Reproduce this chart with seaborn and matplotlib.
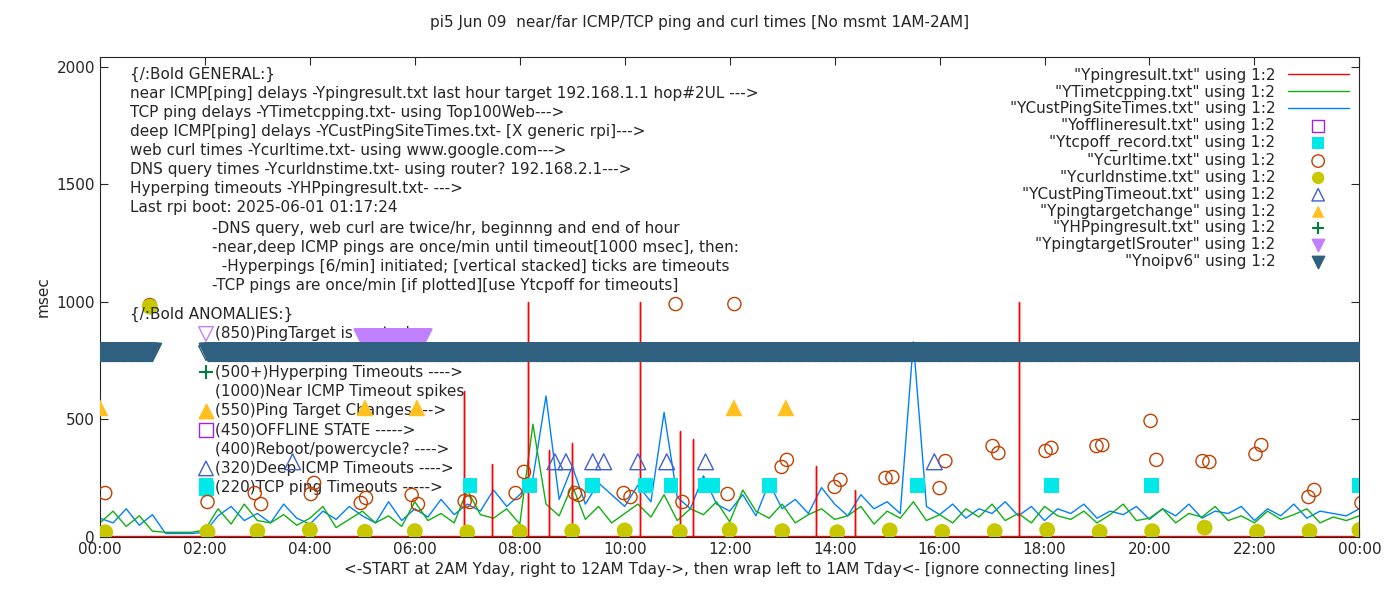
import matplotlib
matplotlib.use('Agg')
import matplotlib.pyplot as plt
import numpy as np
import seaborn as sns

sns.set_style("ticks")
plt.rcParams['font.family'] = ['DejaVu Sans']
plt.rcParams['font.size'] = 11

# 15-minute sample grid (hours)
grid_hours = np.arange(0, 24.01, 0.25)
tcpping_ms = [60, 110, 45, 90, 25, 20, 20, 20, 30, 120, 55, 140, 70, 60, 95, 50,
              80, 130, 40, 75, 110, 60, 90, 45, 150, 70, 100, 60, 200, 95, 80, 120,
              55, 480, 140, 90, 220, 75, 130, 60, 100, 140, 85, 180, 70, 120, 95, 150,
              65, 200, 110, 80, 140, 60, 95, 120, 75, 90, 130, 55, 110, 80, 150, 70,
              95, 60, 120, 85, 140, 70, 100, 60, 130, 90, 75, 110, 60, 95, 140, 70,
              80, 120, 60, 100, 85, 130, 70, 90, 60, 110, 75, 95, 120, 60, 85, 70, 90]
custping_ms = [80, 60, 120, 50, 95, 15, 15, 15, 20, 90, 130, 70, 100, 60, 140, 80,
               55, 110, 75, 130, 90, 60, 150, 70, 120, 85, 160, 95, 140, 110, 200, 130,
               180, 250, 600, 160, 300, 140, 230, 180, 130, 220, 150, 530, 170, 120, 260, 140,
               110, 180, 90, 230, 120, 160, 100, 210, 140, 90, 180, 120, 150, 100, 830, 130,
               95, 140, 80, 120, 100, 150, 90, 130, 70, 120, 100, 140, 80, 110, 95, 130,
               75, 120, 90, 140, 80, 110, 100, 130, 70, 120, 90, 140, 80, 110, 100, 90, 120]
near_base_ms = 5
near_spike_hours = [6.93, 7.47, 8.15, 8.55, 9.0, 10.29, 11.05, 11.3, 13.64, 14.38, 17.52]
near_spike_ms = [620, 310, 1000, 370, 400, 1000, 450, 415, 300, 200, 1000]

curl_hours = [0.1, 0.95, 2.05, 2.95, 3.07, 4.02, 4.08, 4.97, 5.07, 5.94, 6.06, 6.95,
              7.05, 7.92, 8.08, 9.05, 9.12, 9.98, 10.11, 10.97, 11.1, 12.09, 11.96,
              12.99, 13.09, 14.0, 14.11, 14.97, 15.1, 16.0, 16.11, 17.01, 17.12, 18.02,
              18.13, 18.99, 19.1, 20.02, 20.13, 21.01, 21.14, 22.02, 22.13, 23.03, 23.14, 24.04]
curl_ms = [187, 987, 149, 187, 140, 183, 230, 145, 166, 179, 140, 153, 149, 187, 277,
           187, 179, 187, 170, 991, 149, 991, 183, 298, 328, 213, 243, 251, 255, 208,
           323, 387, 357, 366, 379, 387, 391, 494, 328, 323, 319, 353, 391, 170, 200, 145]
dns_hours = [0.1, 0.95, 2.05, 3.0, 4.0, 5.05, 6.0, 7.0, 8.0, 9.0, 10.0, 11.05, 12.0,
             13.0, 14.05, 15.05, 16.05, 17.05, 18.05, 19.05, 20.05, 21.05, 22.05, 23.05, 24.0]
dns_ms = [20, 980, 22, 25, 30, 22, 25, 20, 22, 25, 28, 22, 30, 25, 20, 28, 22, 25,
          30, 22, 25, 40, 22, 25, 30]
tcpoff_hours = [2.02, 7.05, 8.19, 9.39, 10.4, 10.88, 11.54, 11.68, 12.76, 15.58, 18.13, 20.04, 24.0]
tcpoff_ms = [220] * 13
deep_timeout_hours = [3.67, 8.67, 8.88, 9.39, 9.6, 10.25, 10.8, 11.54, 15.9]
deep_timeout_ms = [320] * 9
target_change_hours = [0.0, 5.05, 6.04, 12.08, 13.07]
target_change_ms = [550] * 5
router_hours = np.arange(5.0, 6.16, 1 / 60)
router_ms = 850
noipv6_hours = np.concatenate([np.arange(0, 1.0, 1 / 60), np.arange(2.05, 24.2, 1 / 60)])
noipv6_ms = 785

fig = plt.figure(figsize=(14, 6), dpi=100)
ax = fig.add_axes([0.0714, 0.105, 0.8996, 0.80])

near_x = np.concatenate([grid_hours, near_spike_hours, near_spike_hours, near_spike_hours])
near_y = np.concatenate([[near_base_ms] * len(grid_hours), [near_base_ms] * 11, near_spike_ms,
                         [near_base_ms] * 11])
order = np.argsort(near_x, kind='stable')
sns.lineplot(x=grid_hours, y=custping_ms, color='#0080ff', lw=1, ax=ax, label='"YCustPingSiteTimes.txt" using 1:2', zorder=2)
sns.lineplot(x=grid_hours, y=tcpping_ms, color='#10b010', lw=1, ax=ax, label='"YTimetcpping.txt" using 1:2', zorder=2)
ax.plot(near_x[order], near_y[order], color='red', lw=1, label='"Ypingresult.txt" using 1:2', zorder=3)

ax.scatter([], [], marker='s', facecolors='none', edgecolors='#a020f0', s=70, label='"Yofflineresult.txt" using 1:2')
sns.scatterplot(x=tcpoff_hours, y=tcpoff_ms, marker='s', color='#00e8e8', s=110, edgecolor='none', ax=ax, label='"Ytcpoff_record.txt" using 1:2', zorder=4)
ax.scatter(curl_hours, curl_ms, marker='o', facecolors='none', edgecolors='#c04000', s=90, label='"Ycurltime.txt" using 1:2', zorder=4)
sns.scatterplot(x=dns_hours, y=dns_ms, marker='o', color='#c8c800', s=130, edgecolor='none', ax=ax, label='"Ycurldnstime.txt" using 1:2', zorder=5)
ax.scatter(deep_timeout_hours, deep_timeout_ms, marker='^', facecolors='none', edgecolors='#4060d0', s=130, label='"YCustPingTimeout.txt" using 1:2', zorder=4)
sns.scatterplot(x=target_change_hours, y=target_change_ms, marker='^', color='#ffc020', s=150, edgecolor='none', ax=ax, label='"Ypingtargetchange" using 1:2', zorder=4)
ax.scatter([], [], marker='+', color='#008040', s=120, label='"YHPpingresult.txt" using 1:2')
ax.scatter(router_hours, [router_ms] * len(router_hours), marker='v', color='#c080ff', s=150, label='"YpingtargetISrouter" using 1:2', zorder=4)
ax.scatter(noipv6_hours, [noipv6_ms] * len(noipv6_hours), marker='v', color='#306080', s=170, label='"Ynoipv6" using 1:2', zorder=4)

handles, labels = ax.get_legend_handles_labels()
want = ['"Ypingresult.txt" using 1:2', '"YTimetcpping.txt" using 1:2', '"YCustPingSiteTimes.txt" using 1:2',
        '"Yofflineresult.txt" using 1:2', '"Ytcpoff_record.txt" using 1:2', '"Ycurltime.txt" using 1:2',
        '"Ycurldnstime.txt" using 1:2', '"YCustPingTimeout.txt" using 1:2', '"Ypingtargetchange" using 1:2',
        '"YHPpingresult.txt" using 1:2', '"YpingtargetISrouter" using 1:2', '"Ynoipv6" using 1:2']
hmap = dict(zip(labels, handles))
leg = ax.legend([hmap[l] for l in want], want, loc='upper right', markerfirst=False, frameon=False,
                fontsize=11, labelspacing=0.12, handlelength=4, borderaxespad=0.3)
for h in leg.legend_handles:
    if hasattr(h, 'set_sizes'):
        h.set_sizes([80])

ax.set_xlim(0, 24)
ax.set_ylim(0, 2042)
ax.set_xticks(range(0, 25, 2))
ax.set_xticklabels([f"{h % 24:02d}:00" for h in range(0, 25, 2)])
ax.set_yticks([0, 500, 1000, 1500, 2000])
ax.tick_params(direction='in', top=True, right=True, length=6, labelsize=11)
ax.set_xlabel("<-START at 2AM Yday, right to 12AM Tday->, then wrap left to 1AM Tday<- [ignore connecting lines]", fontsize=11)
ax.set_ylabel("msec", fontsize=11)
fig.suptitle("pi5 Jun 09  near/far ICMP/TCP ping and curl times [No msmt 1AM-2AM]", y=0.975, fontsize=11)

def px2v(y):
    return (537 - y) / 0.235

general = ["{/:Bold GENERAL:}",
           "near ICMP[ping] delays -Ypingresult.txt last hour target 192.168.1.1 hop#2UL --->",
           "TCP ping delays -YTimetcpping.txt- using Top100Web--->",
           "deep ICMP[ping] delays -YCustPingSiteTimes.txt- [X generic rpi]--->",
           "web curl times -Ycurltime.txt- using www.google.com--->",
           "DNS query times -Ycurldnstime.txt- using router? 192.168.2.1--->",
           "Hyperping timeouts -YHPpingresult.txt- --->",
           "Last rpi boot: 2025-06-01 01:17:24"]
for i, t in enumerate(general):
    ax.text(0.57, px2v(75 + i * 19), t, va='center', fontsize=11, zorder=6)
notes = ["-DNS query, web curl are twice/hr, beginnng and end of hour",
         "-near,deep ICMP pings are once/min until timeout[1000 msec], then:",
         "  -Hyperpings [6/min] initiated; [vertical stacked] ticks are timeouts",
         "-TCP pings are once/min [if plotted][use Ytcpoff for timeouts]"]
for i, t in enumerate(notes):
    ax.text(2.13, px2v(229 + i * 19), t, va='center', fontsize=11, zorder=6)
ax.text(0.57, px2v(314), "{/:Bold ANOMALIES:}", va='center', fontsize=11, zorder=6)
anomalies = [("(850)PingTarget is router!", 'v', '#c080ff', 'none'),
             ("(785)No ipv6 failure!", 'v', '#306080', 'none'),
             ("(500+)Hyperping Timeouts ---->", '+', '#008040', None),
             ("(1000)Near ICMP Timeout spikes", None, None, None),
             ("(550)Ping Target Changes --->", '^', '#ffc020', '#ffc020'),
             ("(450)OFFLINE STATE ----->", 's', '#a020f0', 'none'),
             ("(400)Reboot/powercycle? ---->", None, None, None),
             ("(320)Deep ICMP Timeouts ---->", '^', '#4060d0', 'none'),
             ("(220)TCP ping Timeouts ----->", 's', '#00e8e8', '#00e8e8')]
for i, (t, m, c, fc) in enumerate(anomalies):
    y = px2v(334 + i * 19.2)
    ax.text(2.2, y, t, va='center', fontsize=11, zorder=3)
    if m == '+':
        ax.scatter([2.02], [y], marker='+', color=c, s=100, zorder=3)
    elif m:
        ax.scatter([2.02], [y], marker=m, facecolors=fc, edgecolors=c, s=110, zorder=3)

fig.savefig("out.png", dpi=100)
